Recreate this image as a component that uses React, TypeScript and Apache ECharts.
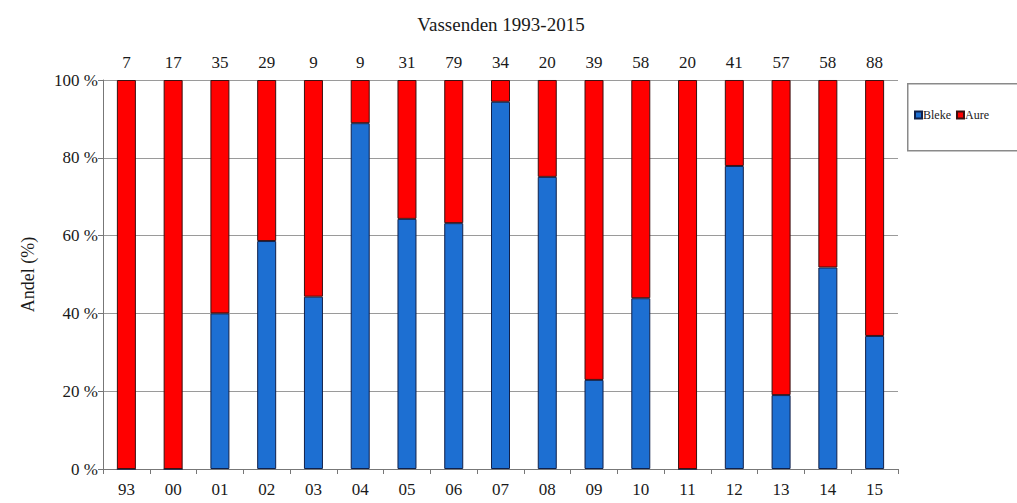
import React, { useEffect, useRef } from "react";
import * as echarts from "echarts";

const categories = ["93", "00", "01", "02", "03", "04", "05", "06", "07", "08", "09", "10", "11", "12", "13", "14", "15"];
const sampleSizes = ["7", "17", "35", "29", "9", "9", "31", "79", "34", "20", "39", "58", "20", "41", "57", "58", "88"];
const bleke = [0, 0, 40, 58.6, 44.3, 88.9, 64.3, 63.2, 94.4, 75.1, 22.9, 43.9, 0, 77.9, 19, 51.8, 34.2];
const aure = [100, 100, 60, 41.4, 55.7, 11.1, 35.7, 36.8, 5.6, 24.9, 77.1, 56.1, 100, 22.1, 81, 48.2, 65.8];
const yTicks = [0, 20, 40, 60, 80, 100];

const FONT = "'Liberation Serif', 'DejaVu Serif', serif";
const TXT = "#1a1a1a";

export default function App() {
  const ref = useRef<HTMLDivElement>(null);
  useEffect(() => {
    if (!ref.current) return;
    const chart = echarts.init(ref.current, undefined, { renderer: "svg" });
    chart.setOption({
      animation: false,
      backgroundColor: "#ffffff",
      title: {
        text: "Vassenden 1993-2015",
        left: 496,
        textAlign: "center",
        top: 10,
        textStyle: { fontFamily: FONT, fontSize: 19, fontWeight: "normal", color: TXT },
      },
      graphic: [
        {
          type: "rect",
          left: 907,
          top: 83,
          shape: { width: 130, height: 67 },
          style: { fill: "#ffffff", stroke: "#8a8a8a", lineWidth: 1.5 },
          z: -1,
        },
      ],
      legend: {
        data: ["Bleke", "Aure"],
        left: 914,
        top: 109,
        orient: "horizontal",
        padding: 0,
        itemWidth: 7,
        itemHeight: 7,
        itemGap: 5,
        icon: "rect",
        textStyle: { fontFamily: FONT, fontSize: 12, color: TXT, padding: [0, 0, 0, -4] },
      },
      grid: { left: 103, right: 119, top: 80, bottom: 34 },
      xAxis: [
        {
          type: "category",
          data: categories,
          position: "bottom",
          axisLine: { lineStyle: { color: "#777" } },
          axisTick: { show: true, length: 5, lineStyle: { color: "#777" } },
          axisLabel: { fontFamily: FONT, fontSize: 17, color: TXT, margin: 12 },
        },
        {
          type: "category",
          data: sampleSizes,
          position: "top",
          axisLine: { show: false },
          axisTick: { show: false },
          axisLabel: { fontFamily: FONT, fontSize: 17, color: TXT, margin: 9 },
        },
      ],
      yAxis: {
        type: "value",
        min: yTicks[0],
        max: yTicks[yTicks.length - 1],
        interval: 20,
        name: "Andel (%)",
        nameLocation: "middle",
        nameRotate: 90,
        nameGap: 66,
        nameTextStyle: { fontFamily: FONT, fontSize: 18, color: TXT },
        axisLine: { show: true, lineStyle: { color: "#777" } },
        axisTick: { show: true, length: 5, lineStyle: { color: "#777" } },
        splitLine: { show: true, lineStyle: { color: "#9a9a9a" } },
        axisLabel: {
          fontFamily: FONT,
          fontSize: 17,
          color: TXT,
          margin: 5,
          formatter: (v: number) => `${v} %`,
        },
      },
      series: [
        {
          name: "Bleke",
          type: "bar",
          stack: "total",
          xAxisIndex: 0,
          data: bleke,
          barWidth: 19,
          itemStyle: { color: "#1d6fd2", borderColor: "#10204a", borderWidth: 1 },
        },
        {
          name: "Aure",
          type: "bar",
          stack: "total",
          xAxisIndex: 0,
          data: aure,
          barWidth: 19,
          itemStyle: { color: "#ff0000", borderColor: "#3a1010", borderWidth: 1 },
        },
      ],
    });
    return () => chart.dispose();
  }, []);
  return (
    <div
      ref={ref}
      style={{ position: "fixed", left: 0, top: 0, width: 1017, height: 503, background: "#fff" }}
    />
  );
}
